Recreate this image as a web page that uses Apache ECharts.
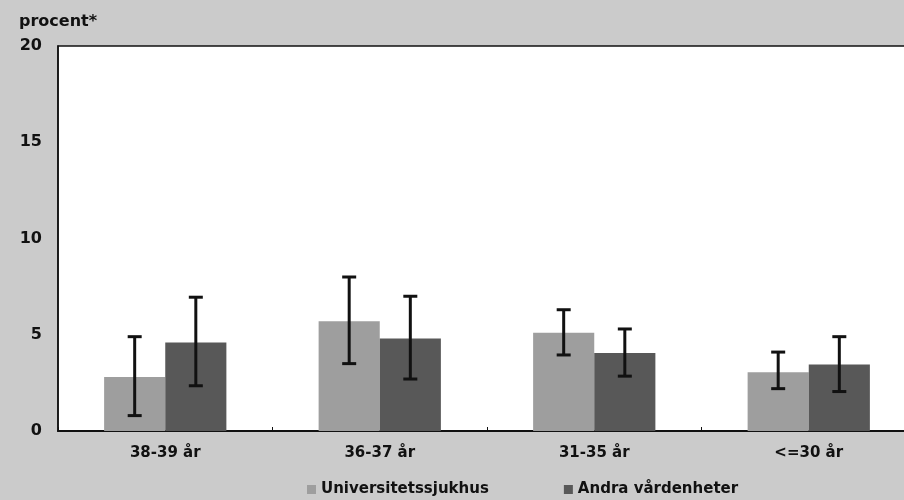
<!DOCTYPE html>
<html>
<head>
<meta charset="utf-8">
<script src="https://cdn.jsdelivr.net/npm/echarts@6/dist/echarts.min.js"></script>
<style>
html,body{margin:0;padding:0;background:#cbcbcb;overflow:hidden;}
#c{width:916px;height:500px;}
</style>
</head>
<body>
<div id="c"></div>
<script>
const categories = ['38-39 år', '36-37 år', '31-35 år', '<=30 år'];
const seriesNames = ['Universitetssjukhus', 'Andra vårdenheter'];
const uniValues = [2.8, 5.7, 5.1, 3.05];
const uniLow = [0.8, 3.5, 3.95, 2.2];
const uniHigh = [4.9, 8.0, 6.3, 4.1];
const otherValues = [4.6, 4.8, 4.05, 3.45];
const otherLow = [2.35, 2.7, 2.85, 2.05];
const otherHigh = [6.95, 7.0, 5.3, 4.9];
const yTicks = [0, 5, 10, 15, 20];

const FONT = 'DejaVu Sans';
const BAR_FRAC = 0.285;

function errData(low, high) {
  return categories.map((c, i) => [i, low[i], high[i]]);
}
function errRender(side) {
  return function (params, api) {
    const idx = api.value(0);
    const lo = api.coord([idx, api.value(1)]);
    const hi = api.coord([idx, api.value(2)]);
    const band = api.size([1, 0])[0];
    const x = lo[0] + side * band * BAR_FRAC / 2;
    const cap = 7;
    const style = { stroke: '#111', lineWidth: 3 };
    return {
      type: 'group',
      children: [
        { type: 'line', shape: { x1: x, y1: hi[1], x2: x, y2: lo[1] }, style: style },
        { type: 'line', shape: { x1: x - cap, y1: hi[1], x2: x + cap, y2: hi[1] }, style: style },
        { type: 'line', shape: { x1: x - cap, y1: lo[1], x2: x + cap, y2: lo[1] }, style: style }
      ]
    };
  };
}

const chart = echarts.init(document.getElementById('c'));
chart.setOption({
  backgroundColor: '#cbcbcb',
  animation: false,
  textStyle: { fontFamily: FONT },
  graphic: [{
    type: 'text', left: 19, top: 14,
    style: { text: 'procent*', font: 'bold 16px "DejaVu Sans"', fill: '#111' }
  }],
  legend: {
    data: seriesNames,
    top: 482,
    left: 307,
    padding: 0,
    itemWidth: 9, itemHeight: 9, itemGap: 75,
    icon: 'rect',
    textStyle: { fontFamily: FONT, fontWeight: 'bold', fontSize: 15, color: '#111' }
  },
  grid: {
    left: 58, top: 46, bottom: 69, right: 0,
    show: true, backgroundColor: '#ffffff', borderColor: '#111', borderWidth: 1.5
  },
  xAxis: {
    type: 'category',
    data: categories,
    axisLine: { lineStyle: { color: '#111', width: 2 } },
    axisTick: { show: true, length: 4, inside: true, lineStyle: { color: '#111' } },
    axisLabel: { fontFamily: FONT, fontWeight: 'bold', fontSize: 15, color: '#111', margin: 15 }
  },
  yAxis: {
    type: 'value', min: 0, max: 20, interval: 5,
    axisLine: { show: true, lineStyle: { color: '#111', width: 1.5 } },
    axisTick: { show: false },
    splitLine: { show: false },
    axisLabel: { fontFamily: FONT, fontWeight: 'bold', fontSize: 16, color: '#111', margin: 16 }
  },
  series: [
    { name: seriesNames[0], type: 'bar', data: uniValues, barWidth: (BAR_FRAC * 100) + '%', barGap: '0%',
      itemStyle: { color: '#9e9e9e' } },
    { name: seriesNames[1], type: 'bar', data: otherValues, barWidth: (BAR_FRAC * 100) + '%', barGap: '0%',
      itemStyle: { color: '#585858' } },
    { type: 'custom', renderItem: errRender(-1), data: errData(uniLow, uniHigh), z: 5, encode: { x: 0, y: [1, 2] } },
    { type: 'custom', renderItem: errRender(1), data: errData(otherLow, otherHigh), z: 5, encode: { x: 0, y: [1, 2] } }
  ]
});
</script>
</body>
</html>
